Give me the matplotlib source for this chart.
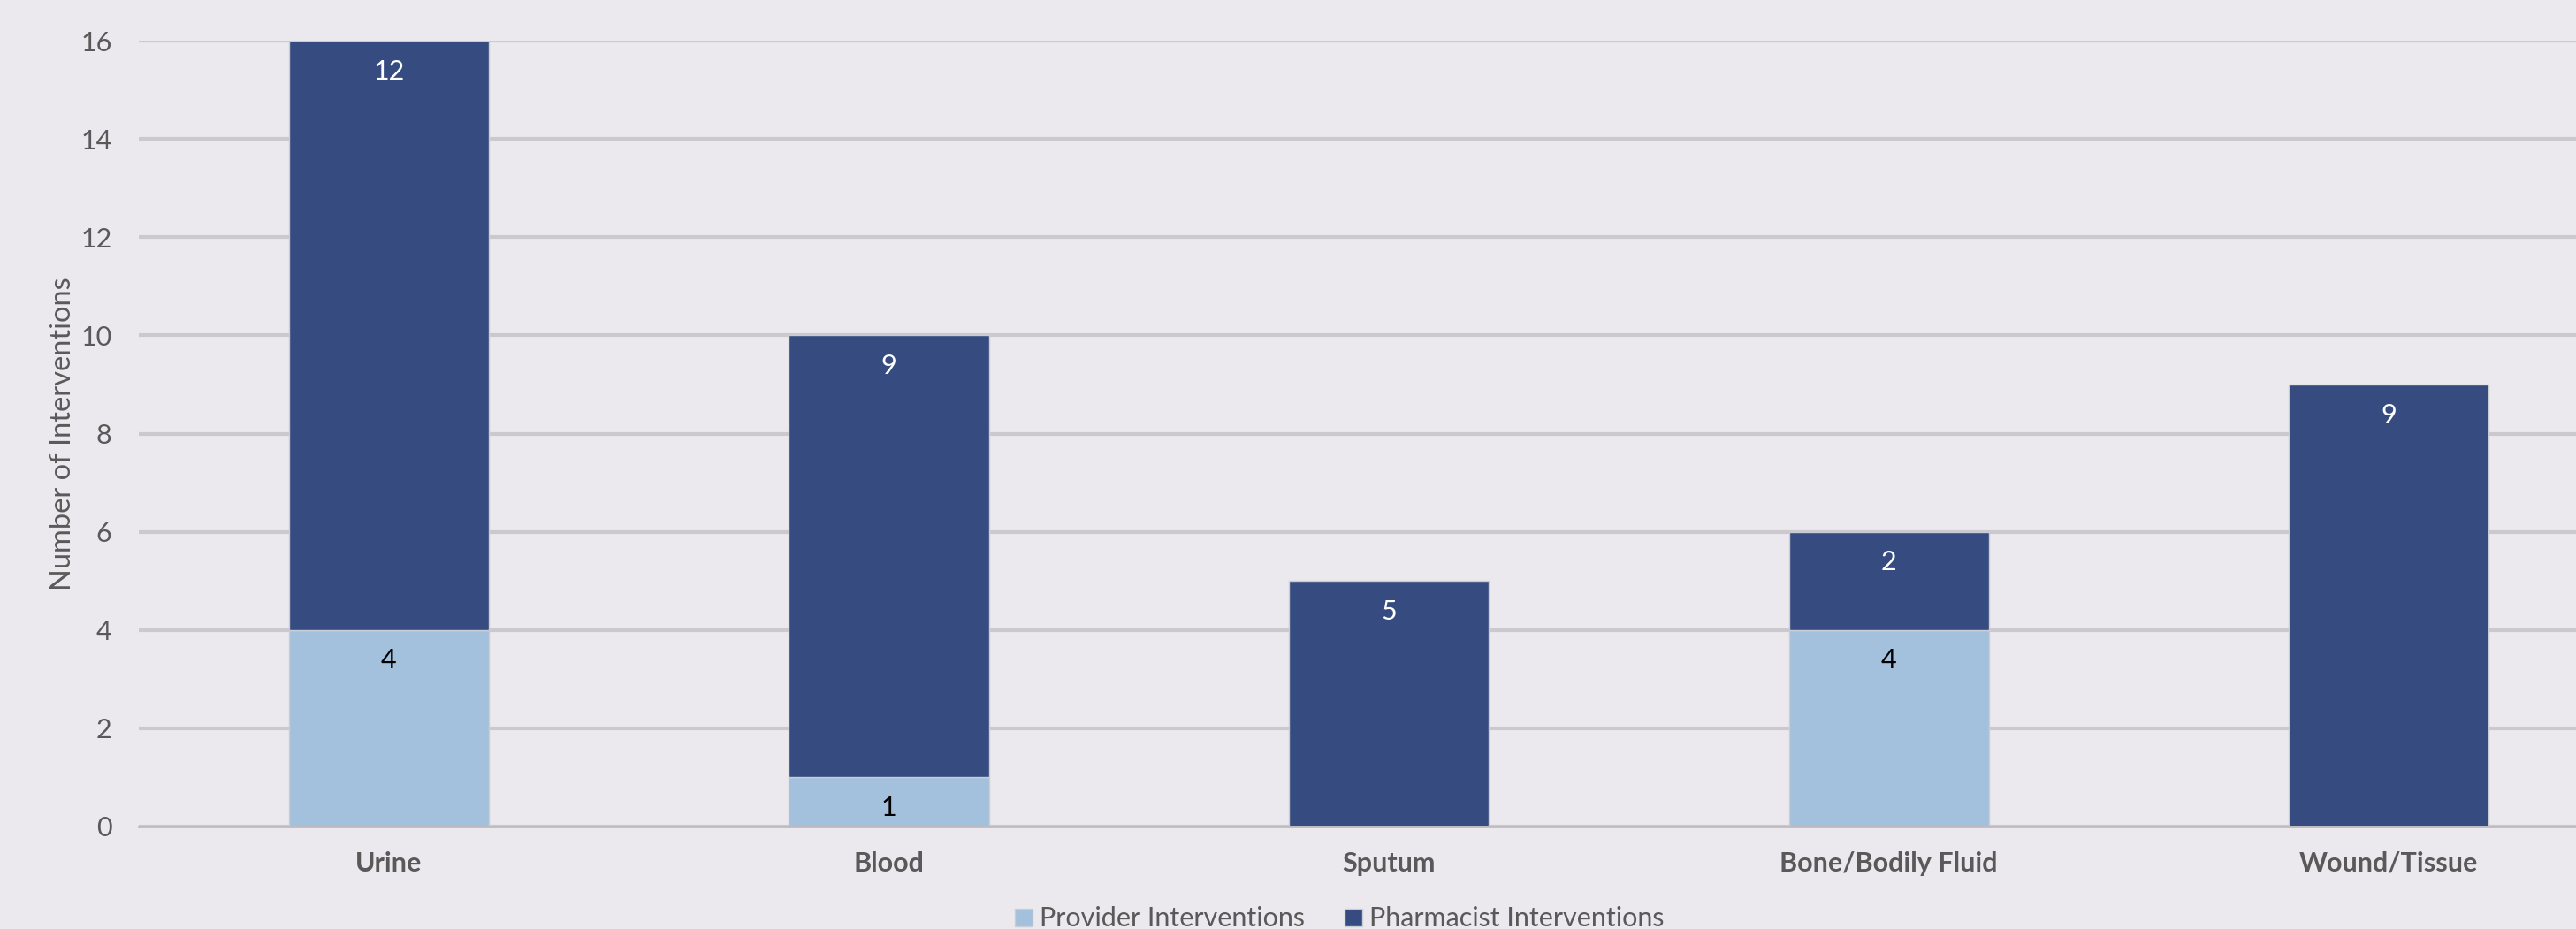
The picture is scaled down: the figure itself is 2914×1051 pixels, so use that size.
import matplotlib.pyplot as plt
import numpy as np

categories = ['Urine', 'Blood', 'Sputum', 'Bone/Bodily Fluid', 'Wound/Tissue']
provider = [4, 1, 0, 4, 0]
pharmacist = [12, 9, 5, 2, 9]
yticks = [0, 2, 4, 6, 8, 10, 12, 14, 16]

BG = '#EBE9ED'
LIGHT = '#A3C1DD'
DARK = '#364C80'
TXT = '#595959'
FONT = 'Lato'

plt.rcParams['font.family'] = [FONT, 'DejaVu Sans']

fig = plt.figure(figsize=(29.14, 10.51), dpi=100, facecolor=BG)
# axes runs a little past the right edge, as in the cropped original
ax = fig.add_axes([0.0539, 0.1105, 0.9705, 0.8455], facecolor=BG)

x = np.arange(len(categories))
w = 0.40
b1 = ax.bar(x, provider, w, color=LIGHT, edgecolor='#C9CDD6', linewidth=1, zorder=3,
            label='Provider Interventions')
b2 = ax.bar(x, pharmacist, w, bottom=provider, color=DARK, edgecolor='#C9CDD6',
            linewidth=1, zorder=3, label='Pharmacist Interventions')

for i in range(len(categories)):
    if provider[i] > 0:
        ax.annotate(str(provider[i]), (x[i], provider[i]), xytext=(0, -25),
                    textcoords='offset points', ha='center', va='center',
                    fontsize=22, color='black', zorder=4)
    top = provider[i] + pharmacist[i]
    ax.annotate(str(pharmacist[i]), (x[i], top), xytext=(0, -25),
                textcoords='offset points', ha='center', va='center',
                fontsize=22, color='white', zorder=4)

ax.set_xlim(-0.5, 4.5)
ax.set_ylim(0, 16)
ax.set_yticks(yticks)
ax.set_yticklabels([str(t) for t in yticks], fontsize=22, color=TXT)
ax.set_xticks(x)
ax.set_xticklabels(categories, fontsize=22, fontweight='bold', color=TXT)
ax.tick_params(axis='both', length=0)
ax.tick_params(axis='y', pad=22)
ax.tick_params(axis='x', pad=20)
ax.grid(axis='y', color='#CBC9CD', linewidth=3, zorder=0)
for s in ['top', 'right', 'left']:
    ax.spines[s].set_visible(False)
ax.spines['bottom'].set_color('#BDBBBF')
ax.spines['bottom'].set_linewidth(2)
ax.set_ylabel('Number of Interventions', fontsize=23.5, color=TXT, labelpad=4)

leg = fig.legend(handles=[b1, b2], loc='center', bbox_to_anchor=(0.52, 0.011),
                 ncol=2, frameon=False, fontsize=22, handlelength=0.65,
                 handleheight=0.65, handletextpad=0.25, columnspacing=1.5)
for t in leg.get_texts():
    t.set_color(TXT)

plt.savefig('out.png', dpi=100, facecolor=BG)
